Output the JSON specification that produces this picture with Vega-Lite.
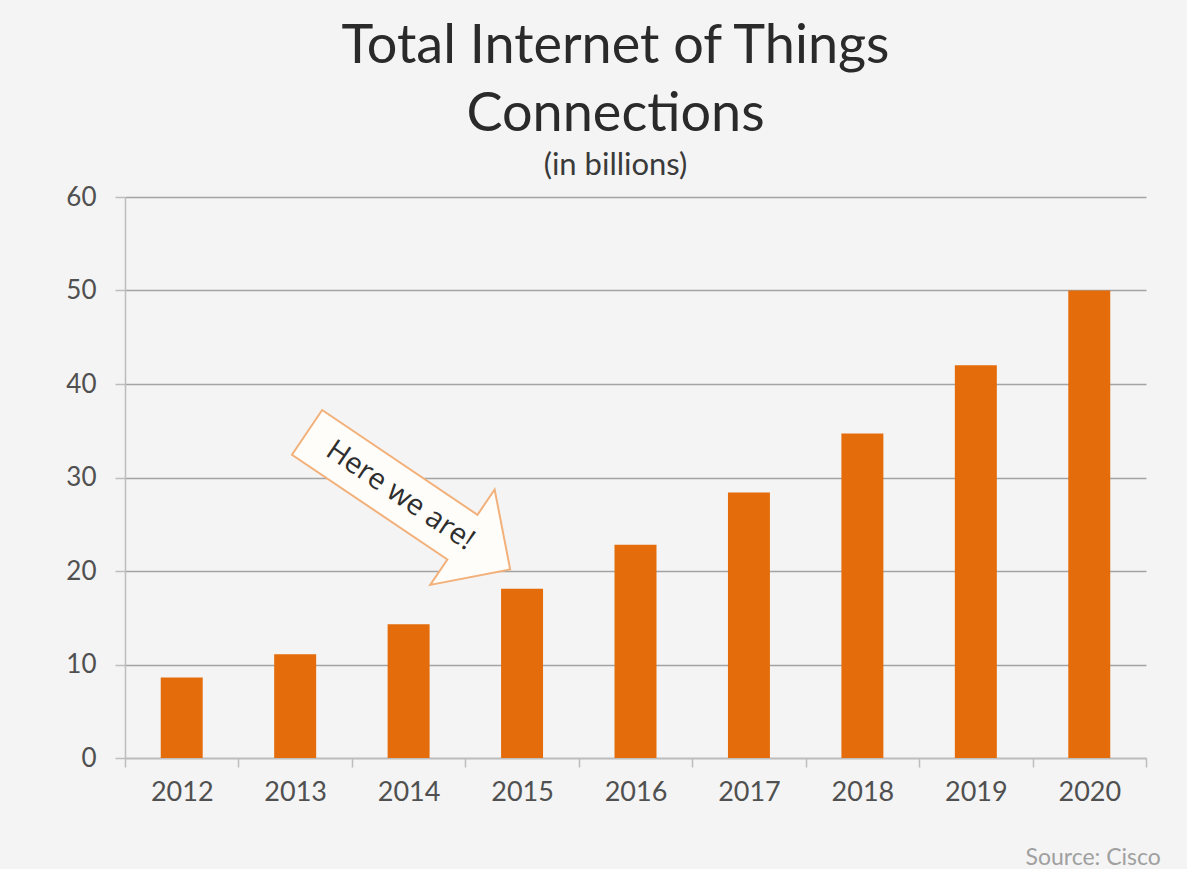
{
  "$schema": "https://vega.github.io/schema/vega-lite/v6.json",
  "autosize": "none",
  "width": 1021,
  "height": 561,
  "padding": {"left": 125, "top": 197, "right": 41, "bottom": 111},
  "background": "#f4f4f4",
  "config": {"view": {"stroke": null}},
  "title": {
    "text": ["Total Internet of Things", "Connections"],
    "subtitle": "(in billions)",
    "anchor": "middle",
    "frame": "group",
    "dx": -20,
    "font": "Lato",
    "fontSize": 54,
    "fontWeight": "normal",
    "lineHeight": 68,
    "color": "#2a2a2a",
    "subtitleFont": "Lato",
    "subtitleFontSize": 31,
    "subtitleColor": "#3a3a3a",
    "subtitlePadding": 9,
    "offset": 3
  },
  "data": {
    "values": [
      {"year": "2012", "connections": 8.6},
      {"year": "2013", "connections": 11.1},
      {"year": "2014", "connections": 14.3},
      {"year": "2015", "connections": 18.1},
      {"year": "2016", "connections": 22.8},
      {"year": "2017", "connections": 28.4},
      {"year": "2018", "connections": 34.7},
      {"year": "2019", "connections": 42.0},
      {"year": "2020", "connections": 50.0}
    ]
  },
  "encoding": {
    "x": {
      "field": "year",
      "type": "nominal",
      "sort": null,
      "scale": {"paddingInner": 0, "paddingOuter": 0},
      "axis": {
        "title": "Source: Cisco",
        "titleX": 900,
        "titleY": 99,
        "titleAlign": "left",
        "titleAnchor": null,
        "titleBaseline": "middle",
        "titleFont": "Lato",
        "titleFontSize": 23,
        "titleFontWeight": "normal",
        "titleColor": "#a0a0a0",
        "labelAngle": 0,
        "labelFont": "Lato",
        "labelFontSize": 27,
        "labelColor": "#505050",
        "labelPadding": 12,
        "tickBand": "extent",
        "tickSize": 9,
        "tickColor": "#bdbdbd",
        "tickWidth": 1.5,
        "domainColor": "#bdbdbd",
        "domainWidth": 1.5,
        "grid": false
      }
    },
    "y": {
      "field": "connections",
      "type": "quantitative",
      "scale": {"domain": [0, 60], "nice": false},
      "axis": {
        "title": null,
        "values": [0, 10, 20, 30, 40, 50, 60],
        "labelFont": "Lato",
        "labelFontSize": 26,
        "labelColor": "#505050",
        "labelPadding": 19,
        "tickSize": 10,
        "tickColor": "#bdbdbd",
        "tickWidth": 1.5,
        "domainColor": "#bdbdbd",
        "domainWidth": 1.5,
        "grid": true,
        "gridColor": "#a3a3a3",
        "gridWidth": 1.5
      }
    }
  },
  "layer": [
    {
      "mark": {"type": "bar", "color": "#e46c0a", "width": {"band": 0.37}}
    },
    {
      "data": {"values": [{"year": "2014", "connections": 27.5, "label": "Here we are!"}]},
      "mark": {
        "type": "point",
        "shape": "M -1 -0.22 L 0.53 -0.22 L 0.53 -0.47 L 1 0 L 0.53 0.47 L 0.53 0.22 L -1 0.22 Z",
        "size": 60025,
        "angle": 34,
        "filled": true,
        "fill": "#fffdf9",
        "stroke": "#f2b07a",
        "strokeWidth": 2,
        "opacity": 1
      }
    },
    {
      "data": {"values": [{"year": "2014", "connections": 27.5, "label": "Here we are!"}]},
      "mark": {
        "type": "text",
        "angle": 34,
        "dx": -10,
        "font": "Open Sans",
        "fontSize": 29,
        "color": "#2e2e2e",
        "align": "center",
        "baseline": "middle"
      },
      "encoding": {"text": {"field": "label"}}
    }
  ]
}
